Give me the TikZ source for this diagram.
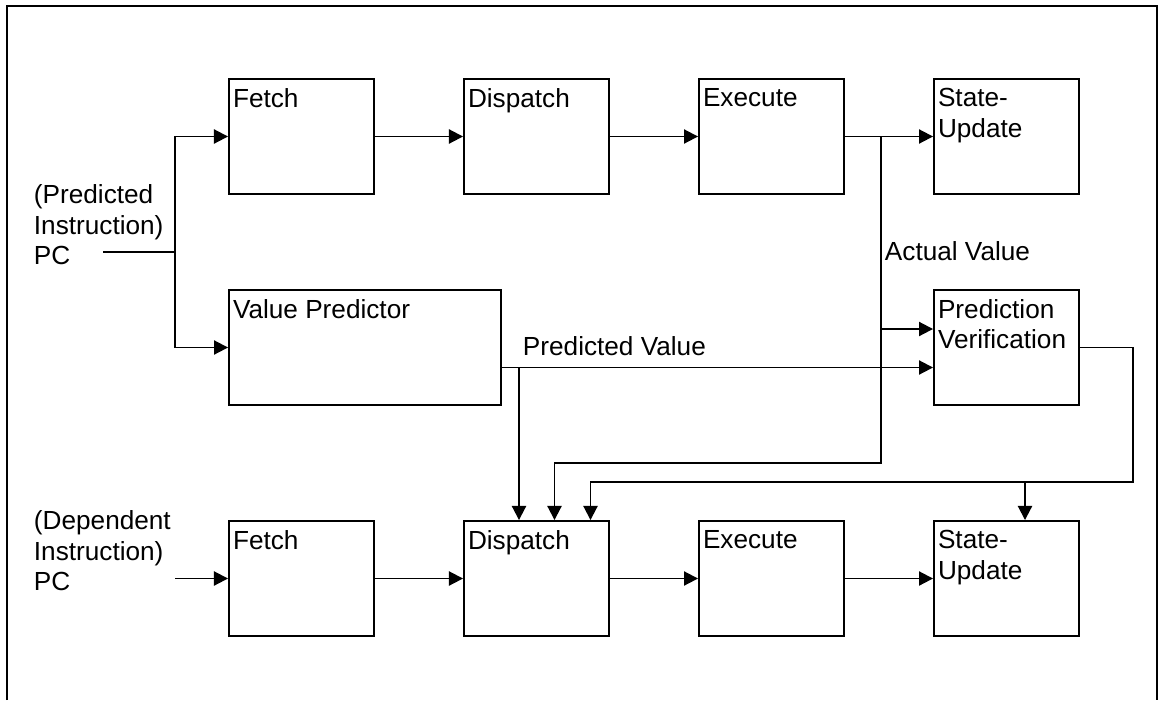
\documentclass[tikz,border=0pt]{standalone}
\usepackage{fontspec}
\setmainfont{Liberation Sans}
\usetikzlibrary{arrows.meta}

\begin{document}
\begin{tikzpicture}[x=0.02cm, y=-0.02cm, line width=1.1pt,
    >={Triangle[length=8pt,width=8pt]},
    stage/.style={draw, minimum width=2.9cm, minimum height=2.3cm, inner sep=0pt},
    tag/.style={anchor=north west, align=left, inner sep=0pt, font=\fontsize{14.9}{17.3}\selectfont},
    note/.style={tag, anchor=base west}]
  \def\xsep{235}
  \def\xo{301.5}
  \def\ytop{136.5}
  \def\ymid{347.5}
  \def\ybot{578.5}

  \useasboundingbox (0,0) rectangle (1159,700);
  \draw (7,700) -- (7,6) -- (1157,6) -- (1157,700);

  % predicted instruction
  \node[stage] (fa) at ({\xo+0*\xsep}, \ytop) {};
  \node[stage] (da) at ({\xo+1*\xsep}, \ytop) {};
  \node[stage] (ea) at ({\xo+2*\xsep}, \ytop) {};
  \node[stage] (sa) at ({\xo+3*\xsep}, \ytop) {};

  \node[stage, minimum width=5.44cm] (vp) at (365, \ymid) {};
  \node[stage] (pv) at ({\xo+3*\xsep}, \ymid) {};

  % dependent instruction
  \node[stage] (fb) at ({\xo+0*\xsep}, \ybot) {};
  \node[stage] (db) at ({\xo+1*\xsep}, \ybot) {};
  \node[stage] (eb) at ({\xo+2*\xsep}, \ybot) {};
  \node[stage] (sb) at ({\xo+3*\xsep}, \ybot) {};

  \node[tag] (fat) at ([shift={(4,9.5)}]fa.north west) {Fetch};
  \node[tag] (dat) at ([shift={(4,9.5)}]da.north west) {Dispatch};
  \node[tag] (eat) at ([shift={(4,9.5)}]ea.north west) {Execute};
  \node[tag] (sat) at ([shift={(4,9.5)}]sa.north west) {State-\\Update};
  \node[tag] (vpt) at ([shift={(4,9.5)}]vp.north west) {Value Predictor};
  \node[tag] (pvt) at ([shift={(4,9.5)}]pv.north west) {Prediction\\Verification};
  \node[tag] (fbt) at ([shift={(4,9.5)}]fb.north west) {Fetch};
  \node[tag] (dbt) at ([shift={(4,9.5)}]db.north west) {Dispatch};
  \node[tag] (ebt) at ([shift={(4,9.5)}]eb.north west) {Execute};
  \node[tag] (sbt) at ([shift={(4,9.5)}]sb.north west) {State-\\Update};

  \node[tag] (pcA) at (33,184) {(Predicted\\Instruction)\\PC};
  \node[tag] (pcB) at (33,510) {(Dependent\\Instruction)\\PC};
  \node[note] (av) at (884,260) {Actual Value};
  \node[note] (pval) at (522,355) {Predicted Value};

  \coordinate (inA) at (103,252);
  \coordinate (jA) at (175,252);
  \coordinate (jB) at (881,\ytop);
  \coordinate (kB) at (881,463);
  \coordinate (jC) at (881,329);
  \coordinate (jD) at (519,367.5);
  \coordinate (rE) at (1133,\ymid);
  \coordinate (kE) at (1133,482);
  \coordinate (jE) at (1025,482);
  \coordinate (inB) at (175,\ybot);

  \draw (inA) -- (jA);
  \draw[->] (jA) |- (fa.west);
  \draw[->] (jA) |- (vp.west);

  \draw[->] (fa) edge (da);
  \draw[->] (da) edge (ea);
  \draw[->] (ea) edge (sa);

  \draw[->] (jB) -- (kB) -| ([shift={(18,0)}]db.north);
  \draw[->] (jC) -- (pv.west |- jC);

  \draw[->] ([shift={(0,20)}]vp.east) -- ([shift={(0,20)}]pv.west);
  \draw[->] (jD) -- (jD |- db.north);

  \draw[->] (pv.east) -- (rE) -- (kE) -| ([shift={(54,0)}]db.north);
  \draw[->] (jE) -- (jE |- sb.north);

  \draw[->] (inB) -- (fb.west);
  \draw[->] (fb) edge (db);
  \draw[->] (db) edge (eb);
  \draw[->] (eb) edge (sb);
\end{tikzpicture}
\end{document}
